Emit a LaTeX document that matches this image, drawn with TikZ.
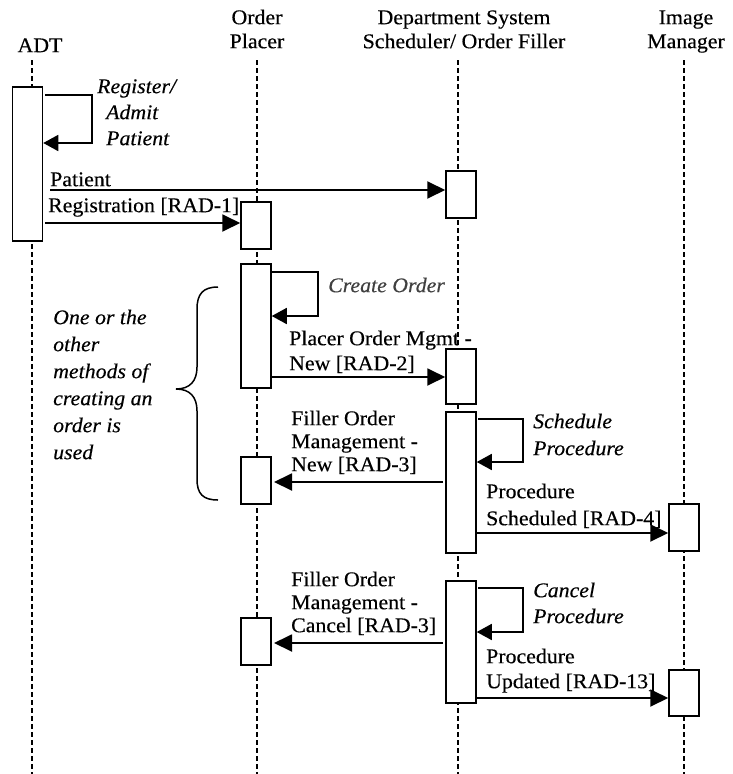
\documentclass[tikz,border=0pt]{standalone}
\usepackage{fontspec}
\setmainfont{Liberation Serif}[FakeStretch=1.04,FakeBold=0.35]
\usetikzlibrary{arrows.meta}
\newcommand\lfs[1]{\fontsize{21}{#1}\selectfont}
\begin{document}
\begin{tikzpicture}[x=1pt,y=-1pt,
  life/.style={line width=2.4pt, dash pattern=on 5pt off 3pt},
  act/.style={draw, fill=white, line width=1.5pt, minimum width=30pt, inner sep=0pt},
  msg/.style={line width=1.9pt, -{Triangle[length=18pt,width=17pt]}},
  selfmsg/.style={line width=1.6pt, -{Triangle[length=15pt,width=16pt]}},
  lbl/.style={anchor=north west, inner sep=0pt, align=left},
  hdr/.style={anchor=north, inner sep=0pt, align=center},
]
\useasboundingbox (0,0) rectangle (733,774);

% lifelines
\coordinate (adtT) at (32,60);  \coordinate (adtB) at (32,774);
\coordinate (opT) at (257,60);  \coordinate (opB) at (257,774);
\coordinate (dsT) at (458,60);  \coordinate (dsB) at (458,774);
\coordinate (imT) at (684,60);  \coordinate (imB) at (684,774);
\draw[life] (adtT) -- (adtB);
\draw[life] (opT) -- (opB);
\draw[life] (dsT) -- (dsB);
\draw[life] (imT) -- (imB);

% headers
\node[hdr, font=\lfs{24}] (hADT) at (40,35.2) {\strut ADT};
\node[hdr, font=\lfs{24}] (hOP) at (257,7.2) {\strut Order\\Placer};
\node[hdr, font=\lfs{24}] (hDS) at (464,7.2) {\strut Department System\\Scheduler/ Order Filler};
\node[hdr, font=\lfs{24}] (hIM) at (686,7.2) {\strut Image\\Manager};

% activation boxes
\node[act, minimum height=154pt] (bADT) at (27.5,164) {};
\node[act, minimum height=47pt] (bOP1) at (256,225.5) {};
\node[act, minimum height=124pt] (bOP2) at (256,326) {};
\node[act, minimum height=47pt] (bOP3) at (256,480.5) {};
\node[act, minimum height=47pt] (bOP4) at (256,641.5) {};
\node[act, minimum height=47pt] (bDS1) at (461,194.5) {};
\node[act, minimum height=55pt] (bDS2) at (461,376.5) {};
\node[act, minimum height=141pt] (bDS3) at (461,482.5) {};
\node[act, minimum height=122pt] (bDS4) at (461,642) {};
\node[act, minimum height=47pt] (bIM1) at (684,527.5) {};
\node[act, minimum height=46pt] (bIM2) at (684,693) {};

% self messages
\coordinate (s1a) at (45,95);   \coordinate (s1b) at (92,143);
\draw[selfmsg] (s1a) -| (s1b) -- (s1b -| bADT.east);
\coordinate (s2a) at (272,272); \coordinate (s2b) at (318,316);
\draw[selfmsg] (s2a) -| (s2b) -- (s2b -| bOP2.east);
\coordinate (s3a) at (478,419); \coordinate (s3b) at (523,462);
\draw[selfmsg] (s3a) -| (s3b) -- (s3b -| bDS3.east);
\coordinate (s4a) at (478,588); \coordinate (s4b) at (523,632);
\draw[selfmsg] (s4a) -| (s4b) -- (s4b -| bDS4.east);

% messages
\coordinate (m1s) at (50,190);
\draw[msg] (m1s) -- (m1s -| bDS1.west);
\coordinate (m2s) at (45,223);
\draw[msg] (m2s) -- (m2s -| bOP1.west);
\coordinate (m3s) at (271,377);
\draw[msg] (m3s) -- (m3s -| bDS2.west);
\coordinate (m4s) at (443,482); \coordinate (m4e) at (274,482);
\draw[msg] (m4s) -- (m4e);
\coordinate (m5s) at (476,533);
\draw[msg] (m5s) -- (m5s -| bIM1.west);
\coordinate (m6s) at (443,643); \coordinate (m6e) at (274,643);
\draw[msg] (m6s) -- (m6e);
\coordinate (m7s) at (476,698);
\draw[msg] (m7s) -- (m7s -| bIM2.west);

% brace
\draw[line width=1.5pt] (218,287) .. controls (203,287) and (197,294) .. (197,309)
  -- (197,367) .. controls (197,381) and (190,389) .. (176,389)
  .. controls (190,389) and (197,397) .. (197,411)
  -- (197,479) .. controls (197,494) and (203,500) .. (218,500);

% labels
\node[lbl, font=\lfs{26}\itshape] (tReg) at (97,74.8) {\strut Register/\\\ \,Admit\\\ \,Patient};
\node[lbl, font=\lfs{25}] (tPat) at (50,168.5) {\strut Patient};
\node[lbl, font=\lfs{25}] (tReg1) at (48,194.5) {\strut Registration [RAD-1]};
\node[lbl, font=\lfs{25}\itshape, text=black!75] (tCre) at (328,274.5) {\strut Create Order};
\node[lbl, font=\lfs{25}] (tPOM) at (289,327.5) {\strut Placer Order Mgmt -\\New [RAD-2]};
\node[lbl, font=\lfs{23}] (tFON) at (291,408.9) {\strut Filler Order\\Management -\\New [RAD-3]};
\node[lbl, font=\lfs{27}\itshape] (tSch) at (533,409.1) {\strut Schedule\\Procedure};
\node[lbl, font=\lfs{27}] (tPS) at (486,479.1) {\strut Procedure\\Scheduled [RAD-4]};
\node[lbl, font=\lfs{23}] (tFOC) at (291,569.9) {\strut Filler Order\\Management -\\Cancel [RAD-3]};
\node[lbl, font=\lfs{26}\itshape] (tCan) at (533,578.8) {\strut Cancel\\Procedure};
\node[lbl, font=\lfs{25}] (tPU) at (486,645.5) {\strut Procedure\\Updated [RAD-13]};
\node[lbl, font=\lfs{27}\itshape] (tOne) at (53,305.1) {\strut One or the\\other\\methods of\\creating an\\order is\\used};
\end{tikzpicture}
\end{document}
